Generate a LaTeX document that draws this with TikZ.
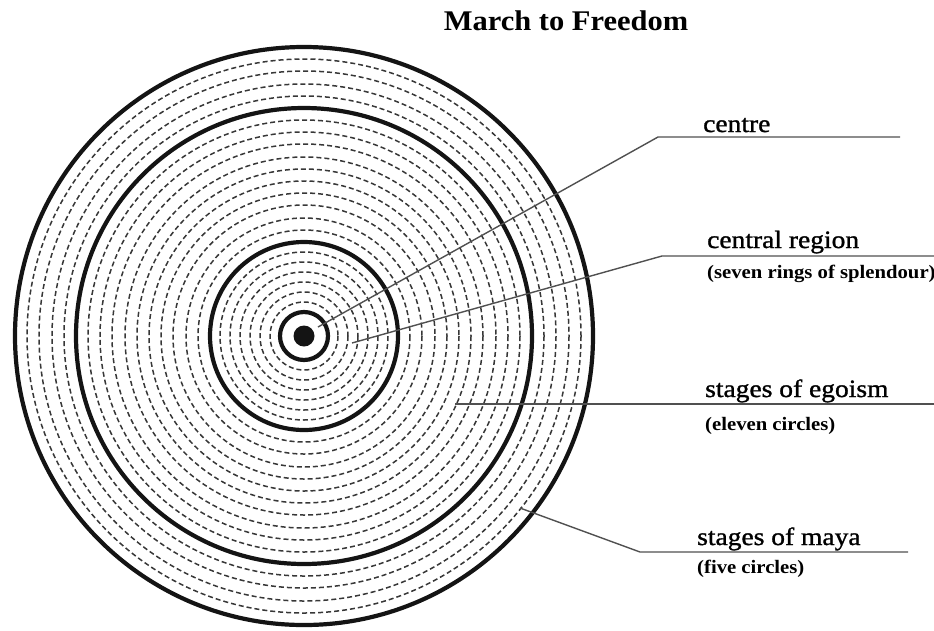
\documentclass[tikz,border=0pt]{standalone}
\usepackage{fontspec}
\setmainfont{Liberation Serif}
\newfontfamily\labfont[FakeStretch=1.1, FakeBold=1.2]{Liberation Serif}
\newfontfamily\sublabfont[FakeStretch=1.09]{Liberation Serif Bold}
\newfontfamily\headfont[FakeStretch=1.07]{Liberation Serif Bold}
\usepackage{tikz}
\usetikzlibrary{positioning, calc}
\usepackage{xcolor}
\definecolor{ink}{RGB}{20,20,20}
\definecolor{leadgray}{RGB}{80,80,80}

\tikzset{
  bigring/.style={draw=ink, line width=4.2pt},
  dashring/.style={draw=ink!85, line width=1.5pt, dash pattern=on 5pt off 3pt},
  leader/.style={draw=leadgray, line width=1.4pt},
  lab/.style={anchor=base west, inner sep=0pt, font=\labfont\fontsize{25}{28}\selectfont},
  sublab/.style={anchor=base west, inner sep=0pt, font=\sublabfont\fontsize{19}{22}\selectfont}
}

\begin{document}
\begin{tikzpicture}[x=1pt, y=-1pt]
  \useasboundingbox (0,0) rectangle (934,630);
  \coordinate (c) at (304,336);

  % dashed rings: seven rings, eleven circles, five circles
  \foreach \r in {34,44,54,64,74,84} \draw[dashring] (c) circle[radius=\r];
  \foreach \r in {106,118,131,143,155,167,179,192,204,216} \draw[dashring] (c) circle[radius=\r];
  \foreach \r in {240,252,265,277} \draw[dashring] (c) circle[radius=\r];

  % solid boundaries
  \foreach \r in {24,94,228,289} \draw[bigring] (c) circle[radius=\r];
  \fill[ink] (c) circle[radius=10.5];

  \node[anchor=base, inner sep=0pt, font=\headfont\fontsize{28.5}{32}\selectfont] (title) at (566,30) {March to Freedom};

  % labels
  \node[lab] (centre) at (703,132) {centre};
  \node[lab] (region) at (707,248) {central region};
  \node[sublab] (regionsub) at (707,278) {(seven rings of splendour)};
  \node[lab] (egoism) at (705,397) {stages of egoism};
  \node[sublab] (egoismsub) at (705,430) {(eleven circles)};
  \node[lab] (maya) at (697,545) {stages of maya};
  \node[sublab] (mayasub) at (697,573) {(five circles)};

  % leader lines
  \coordinate (centreA) at (318,327);
  \coordinate (centreB) at (658,137);
  \coordinate (centreC) at (900,137);
  \coordinate (regionA) at (352,343);
  \coordinate (regionB) at (662,256);
  \coordinate (regionC) at (934,256);
  \coordinate (egoismA) at (455,404);
  \coordinate (egoismC) at (934,404);
  \coordinate (mayaA) at (520,508);
  \coordinate (mayaB) at (640,552);
  \coordinate (mayaC) at (908,552);

  \draw[leader] (centreA) -- (centreB) -- (centreC);
  \draw[leader] (regionA) -- (regionB) -- (regionC);
  \draw[leader] (egoismA) -- (egoismC);
  \draw[leader] (mayaA) -- (mayaB) -- (mayaC);
\end{tikzpicture}
\end{document}
